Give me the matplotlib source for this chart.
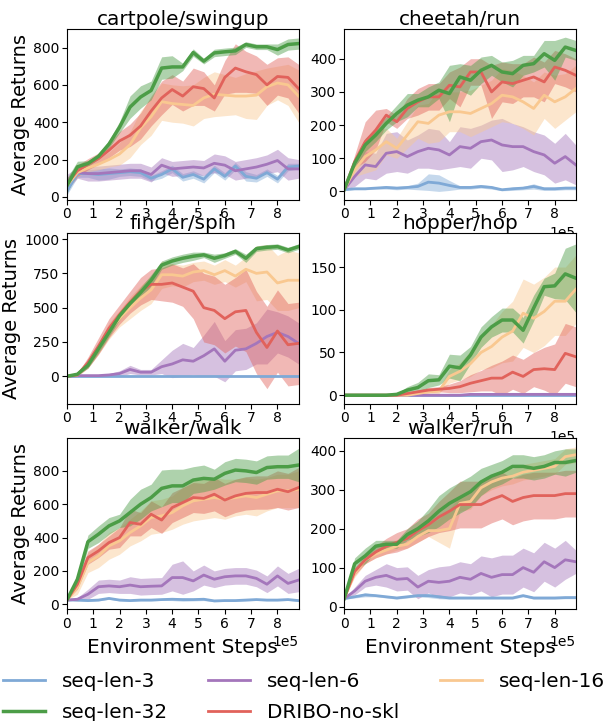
import numpy as np
import matplotlib.pyplot as plt

# ----------------------------
# Data
# ----------------------------
steps = np.linspace(0, 8.8e5, 23)

tasks = ["cartpole/swingup", "cheetah/run", "finger/spin",
         "hopper/hop", "walker/walk", "walker/run"]
methods = ["seq-len-3", "seq-len-6", "seq-len-16", "DRIBO-no-skl", "seq-len-32"]

# cartpole/swingup
cartpole_mean = {
    "seq-len-3": [30, 125, 125, 120, 125, 130, 135, 130, 100, 120, 150, 105, 120, 95, 150, 110, 165, 110, 100, 130, 95, 160, 165],
    "seq-len-6": [80, 130, 125, 125, 130, 135, 140, 140, 120, 170, 150, 155, 160, 155, 180, 170, 140, 150, 160, 175, 195, 150, 150],
    "seq-len-16": [60, 130, 155, 175, 200, 230, 280, 370, 430, 510, 500, 495, 490, 530, 550, 545, 540, 540, 545, 590, 610, 600, 540],
    "DRIBO-no-skl": [70, 140, 175, 205, 250, 300, 330, 380, 460, 530, 575, 540, 590, 580, 530, 640, 690, 670, 655, 600, 645, 640, 580],
    "seq-len-32": [60, 161, 179, 217, 283, 373, 481, 535, 570, 690, 696, 696, 773, 727, 771, 777, 782, 816, 804, 804, 789, 816, 821],
}
cartpole_std = {
    "seq-len-3": [20, 20, 20, 30, 30, 20, 20, 20, 15, 20, 20, 20, 20, 20, 20, 20, 20, 25, 20, 20, 20, 20, 15],
    "seq-len-6": [40, 30, 40, 40, 40, 40, 40, 40, 40, 40, 40, 40, 40, 40, 50, 50, 50, 50, 50, 50, 60, 60, 50],
    "seq-len-16": [30, 20, 20, 30, 40, 60, 70, 90, 100, 100, 100, 100, 110, 110, 120, 110, 100, 120, 130, 100, 90, 110, 140],
    "DRIBO-no-skl": [30, 30, 30, 30, 40, 50, 60, 70, 80, 90, 80, 80, 100, 90, 70, 90, 130, 110, 100, 110, 100, 110, 130],
    "seq-len-32": [40, 30, 15, 15, 20, 30, 60, 60, 50, 60, 60, 20, 20, 15, 20, 20, 20, 15, 15, 15, 30, 30, 30],
}

# cheetah/run
cheetah_mean = {
    "seq-len-3": [5, 8, 8, 10, 12, 10, 12, 15, 28, 25, 18, 12, 12, 15, 12, 5, 8, 10, 15, 8, 8, 10, 10],
    "seq-len-6": [5, 45, 80, 75, 115, 120, 105, 120, 130, 125, 110, 135, 130, 150, 155, 140, 135, 135, 120, 110, 85, 105, 80],
    "seq-len-16": [5, 65, 105, 125, 150, 130, 170, 210, 205, 230, 240, 240, 235, 250, 265, 290, 285, 270, 250, 290, 270, 285, 310],
    "DRIBO-no-skl": [5, 90, 150, 185, 230, 210, 250, 270, 285, 285, 320, 315, 360, 360, 300, 330, 325, 335, 345, 330, 375, 365, 350],
    "seq-len-32": [5, 85, 140, 170, 205, 235, 260, 275, 285, 305, 295, 345, 335, 365, 380, 360, 355, 380, 385, 415, 395, 435, 425],
}
cheetah_std = {
    "seq-len-3": [0, 3, 3, 3, 5, 5, 5, 10, 25, 25, 15, 5, 5, 5, 5, 3, 5, 5, 8, 5, 5, 5, 5],
    "seq-len-6": [0, 30, 40, 40, 60, 60, 50, 50, 60, 60, 40, 60, 60, 50, 60, 80, 70, 60, 60, 60, 60, 70, 60],
    "seq-len-16": [0, 20, 50, 60, 40, 30, 40, 50, 60, 80, 60, 60, 70, 70, 70, 80, 80, 80, 80, 70, 80, 70, 70],
    "DRIBO-no-skl": [0, 20, 60, 60, 20, 20, 30, 40, 40, 40, 40, 60, 40, 40, 80, 60, 60, 50, 60, 60, 50, 50, 50],
    "seq-len-32": [0, 15, 20, 20, 20, 25, 35, 20, 30, 25, 85, 40, 45, 40, 30, 30, 40, 30, 25, 40, 60, 30, 30],
}

# finger/spin
finger_mean = {
    "seq-len-3": [0, 0, 0, 0, 0, 0, 0, 0, 0, 0, 0, 0, 0, 0, 0, 0, 0, 0, 0, 0, 0, 0, 0],
    "seq-len-6": [0, 5, 5, 5, 10, 20, 50, 30, 30, 70, 90, 120, 110, 150, 200, 110, 190, 200, 240, 290, 320, 290, 240],
    "seq-len-16": [0, 10, 90, 200, 330, 420, 500, 570, 630, 740, 740, 730, 760, 770, 740, 770, 730, 780, 750, 760, 680, 700, 700],
    "DRIBO-no-skl": [0, 10, 100, 220, 350, 450, 540, 620, 670, 670, 680, 650, 620, 500, 480, 420, 470, 480, 320, 210, 330, 230, 240],
    "seq-len-32": [0, 15, 80, 200, 320, 440, 530, 610, 700, 810, 840, 860, 875, 885, 860, 880, 910, 860, 930, 940, 945, 920, 945],
}
finger_std = {
    "seq-len-3": [2, 2, 2, 2, 2, 2, 2, 2, 2, 2, 2, 2, 2, 2, 2, 2, 2, 2, 2, 2, 2, 2, 2],
    "seq-len-6": [0, 3, 3, 3, 10, 20, 30, 20, 20, 50, 100, 120, 100, 150, 200, 150, 150, 150, 150, 200, 150, 150, 150],
    "seq-len-16": [0, 5, 30, 40, 60, 60, 80, 90, 100, 100, 80, 80, 70, 70, 70, 80, 80, 90, 200, 200, 200, 220, 200],
    "DRIBO-no-skl": [0, 10, 40, 60, 70, 70, 80, 100, 110, 120, 140, 140, 200, 250, 250, 250, 250, 300, 300, 300, 300, 300, 300],
    "seq-len-32": [0, 5, 20, 30, 30, 30, 30, 40, 40, 30, 30, 30, 30, 20, 30, 20, 20, 30, 20, 20, 20, 20, 20],
}

# hopper/hop
hopper_mean = {
    "seq-len-3": [0, 0, 0, 0, 0, 0, 0, 0, 0, 0, 0, 0, 0, 0, 0, 0, 0, 0, 0, 0, 0, 0, 0],
    "seq-len-6": [0, 0, 0, 0, 0, 0, 0, 0, 0, 0, 0, 0, 1, 1, 1, 1, 1, 1, 1, 1, 1, 1, 1],
    "seq-len-16": [0, 0, 0, 0, 0, 0, 0, 2, 4, 5, 22, 28, 37, 50, 57, 68, 75, 96, 90, 98, 110, 110, 124],
    "DRIBO-no-skl": [0, 0, 0, 0, 0, 0, 2, 4, 6, 7, 8, 10, 14, 17, 20, 20, 27, 22, 30, 31, 30, 49, 45],
    "seq-len-32": [0, 0, 0, 0, 0, 1, 6, 9, 17, 18, 34, 32, 47, 68, 80, 88, 88, 76, 102, 127, 128, 142, 137],
}
hopper_std = {
    "seq-len-3": [0, 0, 0, 0, 0, 0, 0, 0, 0, 0, 0, 0, 0, 0, 0, 0, 0, 0, 0, 0, 0, 0, 0],
    "seq-len-6": [0, 0, 0, 0, 0, 0, 0, 0, 0, 0, 1, 1, 1, 1, 1, 1, 1, 1, 1, 1, 1, 1, 1],
    "seq-len-16": [0, 0, 0, 0, 0, 0, 0, 1, 2, 3, 8, 10, 15, 20, 25, 30, 35, 40, 40, 40, 40, 40, 40],
    "DRIBO-no-skl": [0, 0, 0, 0, 0, 0, 1, 2, 3, 3, 5, 7, 10, 12, 15, 20, 20, 20, 20, 25, 30, 35, 35],
    "seq-len-32": [0, 0, 0, 0, 0, 1, 4, 6, 8, 6, 14, 15, 10, 12, 12, 14, 14, 15, 15, 10, 15, 30, 40],
}

# walker/walk
walk_mean = {
    "seq-len-3": [25, 25, 22, 25, 35, 25, 22, 25, 25, 28, 30, 28, 28, 30, 20, 22, 22, 25, 28, 25, 25, 28, 22],
    "seq-len-6": [25, 30, 60, 105, 110, 105, 115, 105, 108, 110, 160, 160, 140, 175, 150, 165, 170, 170, 155, 120, 170, 125, 145],
    "seq-len-16": [25, 100, 250, 290, 350, 380, 430, 470, 520, 530, 550, 590, 620, 630, 640, 630, 640, 650, 640, 660, 680, 680, 690],
    "DRIBO-no-skl": [25, 120, 280, 320, 370, 400, 490, 480, 540, 505, 580, 610, 640, 635, 660, 625, 650, 665, 670, 670, 690, 675, 700],
    "seq-len-32": [25, 150, 375, 420, 470, 500, 550, 600, 640, 695, 710, 710, 745, 755, 750, 785, 805, 800, 790, 820, 825, 825, 835],
}
walk_std = {
    "seq-len-3": [0, 5, 5, 5, 5, 5, 5, 5, 5, 5, 8, 10, 8, 8, 5, 5, 5, 5, 5, 5, 5, 5, 5],
    "seq-len-6": [0, 10, 30, 40, 40, 40, 50, 50, 50, 50, 80, 100, 60, 60, 50, 50, 50, 50, 50, 50, 60, 60, 70],
    "seq-len-16": [0, 40, 60, 70, 80, 80, 80, 90, 100, 100, 100, 110, 120, 120, 120, 120, 110, 110, 110, 100, 100, 100, 110],
    "DRIBO-no-skl": [0, 30, 40, 40, 40, 60, 80, 70, 80, 80, 90, 90, 90, 90, 100, 100, 100, 100, 100, 100, 110, 110, 120],
    "seq-len-32": [0, 30, 40, 50, 50, 40, 80, 90, 80, 110, 100, 100, 80, 80, 60, 70, 70, 70, 70, 70, 70, 70, 100],
}

# walker/run
run_mean = {
    "seq-len-3": [20, 25, 30, 28, 25, 22, 25, 28, 28, 25, 22, 22, 22, 22, 22, 22, 22, 28, 22, 22, 22, 23, 23],
    "seq-len-6": [20, 40, 65, 75, 80, 70, 72, 50, 65, 62, 65, 75, 70, 85, 75, 82, 82, 100, 88, 115, 100, 120, 115],
    "seq-len-16": [20, 85, 120, 135, 145, 155, 160, 180, 195, 195, 200, 265, 270, 305, 320, 330, 335, 345, 350, 355, 360, 385, 390],
    "DRIBO-no-skl": [20, 90, 120, 140, 155, 165, 175, 195, 210, 230, 245, 262, 262, 262, 275, 285, 270, 280, 285, 285, 285, 290, 290],
    "seq-len-32": [20, 110, 130, 155, 160, 160, 185, 200, 220, 245, 265, 280, 295, 320, 335, 345, 360, 360, 355, 360, 370, 370, 375],
}
run_std = {
    "seq-len-3": [0, 3, 5, 3, 3, 3, 3, 3, 5, 5, 3, 3, 3, 3, 3, 3, 3, 3, 3, 3, 3, 3, 3],
    "seq-len-6": [0, 10, 15, 20, 30, 30, 30, 30, 30, 40, 40, 40, 40, 45, 50, 50, 50, 50, 50, 50, 50, 50, 30],
    "seq-len-16": [0, 10, 10, 10, 10, 10, 10, 15, 15, 30, 50, 20, 20, 20, 20, 20, 20, 20, 20, 20, 20, 20, 20],
    "DRIBO-no-skl": [0, 10, 10, 15, 20, 25, 25, 30, 30, 40, 50, 60, 60, 60, 60, 60, 60, 60, 60, 60, 60, 60, 60],
    "seq-len-32": [0, 15, 20, 15, 10, 10, 15, 20, 30, 40, 40, 40, 40, 35, 30, 30, 30, 30, 30, 30, 30, 35, 30],
}

all_means = [cartpole_mean, cheetah_mean, finger_mean, hopper_mean, walk_mean, run_mean]
all_stds = [cartpole_std, cheetah_std, finger_std, hopper_std, walk_std, run_std]
ylims = [(-15, 900), (-25, 490), (-200, 1045), (-10, 190), (-30, 995), (-7, 432)]

colors = {
    "seq-len-3": "#7fa9d6",
    "seq-len-6": "#a476bb",
    "seq-len-16": "#f9c890",
    "DRIBO-no-skl": "#e1625b",
    "seq-len-32": "#4c9d47",
}
widths = {"seq-len-3": 2.0, "seq-len-6": 2.0, "seq-len-16": 2.0,
          "DRIBO-no-skl": 2.0, "seq-len-32": 2.5}

# ----------------------------
# Plotting
# ----------------------------
fig = plt.figure(figsize=(6.08, 7.21), dpi=100)
lefts = [0.110, 0.566]
bottoms = [0.723, 0.440, 0.155]
w, h = 0.381, 0.237

handles = {}
for i, task in enumerate(tasks):
    row, col = divmod(i, 2)
    ax = fig.add_axes([lefts[col], bottoms[row], w, h])
    for m in methods:
        mean = np.array(all_means[i][m], dtype=float)
        std = np.array(all_stds[i][m], dtype=float)
        ax.fill_between(steps, mean - std, mean + std, color=colors[m],
                        alpha=0.45, linewidth=0)
        line, = ax.plot(steps, mean, color=colors[m], linewidth=widths[m])
        handles[m] = line
    ax.set_xlim(0, 8.8e5)
    ax.set_ylim(*ylims[i])
    ax.set_xticks(np.arange(0, 9) * 1e5)
    ax.ticklabel_format(axis="x", style="sci", scilimits=(0, 0))
    ax.set_title(task, fontsize=14.4, pad=3)
    ax.tick_params(labelsize=10, pad=2)
    if col == 0:
        ax.set_ylabel("Average Returns", fontsize=14, labelpad=2)
    if row == 2:
        ax.set_xlabel("Environment Steps", fontsize=14.4, labelpad=5)
    ax.xaxis.get_offset_text().set_fontsize(10)
    if col == 0 and row < 2:
        ax.xaxis.get_offset_text().set_visible(False)

# legend: row 1 -> 3, 6, 16 ; row 2 -> 32, DRIBO
order = ["seq-len-3", "seq-len-32", "seq-len-6", "DRIBO-no-skl", "seq-len-16"]
fig.legend([handles[m] for m in order], order, loc="upper center",
           bbox_to_anchor=(0.5, 0.079), borderaxespad=0, ncol=3, frameon=False,
           fontsize=14.4, handlelength=2.1, columnspacing=2.0,
           handletextpad=0.85, labelspacing=0.6)

plt.savefig("out.png", dpi=100)
